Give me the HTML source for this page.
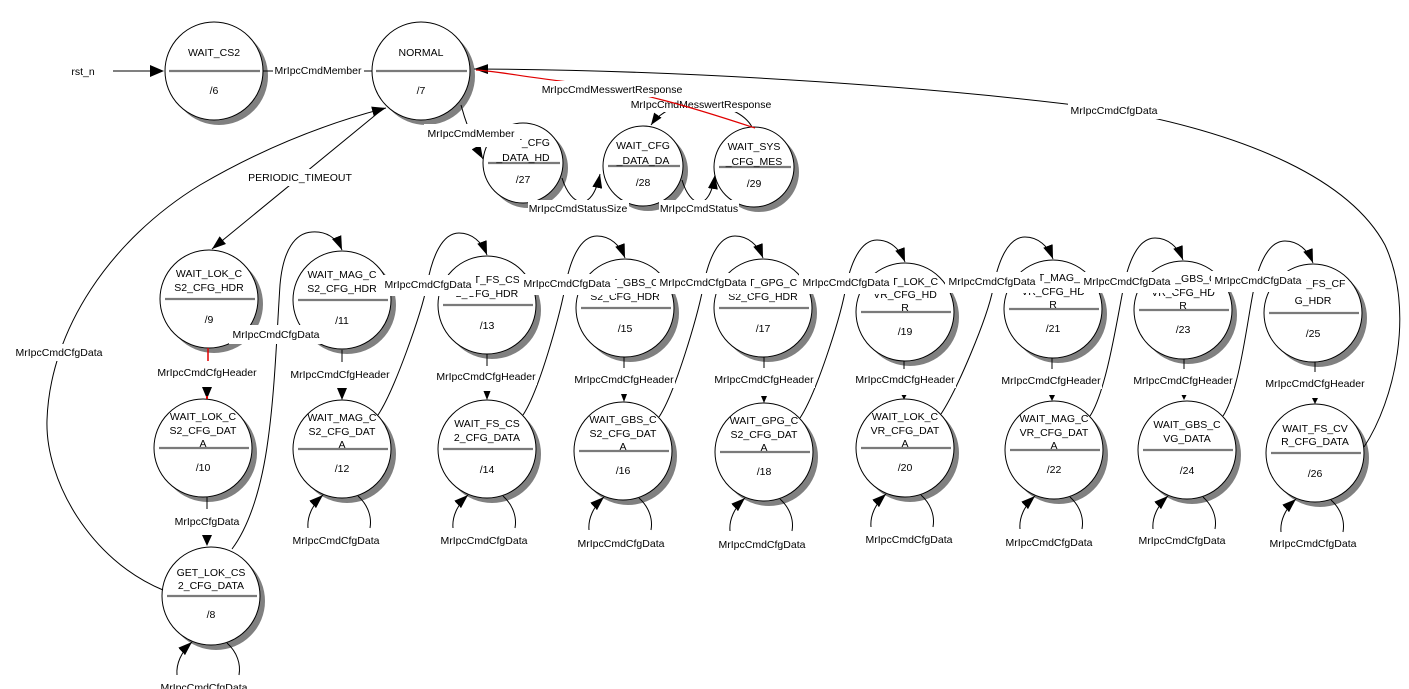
<!DOCTYPE html>
<html>
<head>
<meta charset="utf-8">
<style>
html,body{margin:0;padding:0;background:#fff;}
svg{display:block;}
text{font-family:"Liberation Sans",Arial,sans-serif;font-size:10.5px;fill:#000;text-anchor:middle;}
.e{fill:none;stroke:#000;stroke-width:1;}
.sh{fill:#808080;}
.nd{fill:#fff;stroke:#000;stroke-width:1;}
.dv{stroke:#7a7a7a;stroke-width:2.2;}
.bg{fill:#fff;}
</style>
</head>
<body>
<svg width="1409" height="689" viewBox="0 0 1409 689" xmlns="http://www.w3.org/2000/svg">
<defs>
<marker id="A" markerWidth="14" markerHeight="10" refX="14" refY="5" orient="auto" markerUnits="userSpaceOnUse"><path d="M0,0 L14,5 L0,10 z" fill="#000"/></marker>
<marker id="B" markerWidth="12" markerHeight="9" refX="12" refY="4.5" orient="auto" markerUnits="userSpaceOnUse"><path d="M0,0 L12,4.5 L0,9 z" fill="#000"/></marker>
</defs>
<rect width="1409" height="689" fill="#fff"/>

<!-- ===== NODES ===== -->
<circle class="sh" cx="219" cy="76" r="49"/><circle class="nd" cx="214" cy="71" r="49"/>
<line class="dv" x1="169" y1="71" x2="260" y2="71"/>
<text x="214" y="56">WAIT_CS2</text><text x="214" y="94">/6</text>

<circle class="sh" cx="426" cy="76" r="49"/><circle class="nd" cx="421" cy="71" r="49"/>
<line class="dv" x1="376" y1="71" x2="467" y2="71"/>
<text x="421" y="56">NORMAL</text><text x="421" y="94">/7</text>

<circle class="sh" cx="528" cy="168" r="40"/><circle class="nd" cx="523" cy="163" r="40"/>
<line class="dv" x1="488" y1="163" x2="560" y2="163"/>
<text x="523" y="146">WAIT_CFG</text><text x="523" y="161">_DATA_HD</text><text x="523" y="183">/27</text>

<circle class="sh" cx="648" cy="171" r="40"/><circle class="nd" cx="643" cy="166" r="40"/>
<line class="dv" x1="608" y1="166" x2="680" y2="166"/>
<text x="643" y="149">WAIT_CFG</text><text x="643" y="164">_DATA_DA</text><text x="643" y="186">/28</text>

<circle class="sh" cx="759" cy="172" r="40"/><circle class="nd" cx="754" cy="167" r="40"/>
<line class="dv" x1="719" y1="167" x2="791" y2="167"/>
<text x="754" y="150">WAIT_SYS</text><text x="754" y="165">_CFG_MES</text><text x="754" y="187">/29</text>

<circle class="sh" cx="214" cy="304" r="49"/><circle class="nd" cx="209" cy="299" r="49"/>
<line class="dv" x1="165" y1="299" x2="255" y2="299"/>
<text x="209" y="277">WAIT_LOK_C</text><text x="209" y="291">S2_CFG_HDR</text><text x="209" y="323">/9</text>

<circle class="sh" cx="208" cy="453" r="49"/><circle class="nd" cx="203" cy="448" r="49"/>
<line class="dv" x1="159" y1="448" x2="249" y2="448"/>
<text x="203" y="420">WAIT_LOK_C</text><text x="203" y="434">S2_CFG_DAT</text><text x="203" y="447">A</text><text x="203" y="471">/10</text>

<circle class="sh" cx="216" cy="601" r="49"/><circle class="nd" cx="211" cy="596" r="49"/>
<line class="dv" x1="167" y1="596" x2="257" y2="596"/>
<text x="211" y="576">GET_LOK_CS</text><text x="211" y="589">2_CFG_DATA</text><text x="211" y="618">/8</text>

<circle class="sh" cx="347" cy="305" r="49"/><circle class="nd" cx="342" cy="300" r="49"/>
<line class="dv" x1="298" y1="300" x2="388" y2="300"/>
<text x="342" y="278">WAIT_MAG_C</text><text x="342" y="292">S2_CFG_HDR</text><text x="342" y="324">/11</text>

<circle class="sh" cx="347" cy="454" r="49"/><circle class="nd" cx="342" cy="449" r="49"/>
<line class="dv" x1="298" y1="449" x2="388" y2="449"/>
<text x="342" y="421">WAIT_MAG_C</text><text x="342" y="435">S2_CFG_DAT</text><text x="342" y="448">A</text><text x="342" y="472">/12</text>

<circle class="sh" cx="492" cy="310" r="49"/><circle class="nd" cx="487" cy="305" r="49"/>
<line class="dv" x1="443" y1="305" x2="533" y2="305"/>
<text x="487" y="283">WAIT_FS_CS</text><text x="487" y="297">2_CFG_HDR</text><text x="487" y="329">/13</text>

<circle class="sh" cx="492" cy="454" r="49"/><circle class="nd" cx="487" cy="449" r="49"/>
<line class="dv" x1="443" y1="449" x2="533" y2="449"/>
<text x="487" y="427">WAIT_FS_CS</text><text x="487" y="441">2_CFG_DATA</text><text x="487" y="473">/14</text>

<circle class="sh" cx="630" cy="313" r="49"/><circle class="nd" cx="625" cy="308" r="49"/>
<line class="dv" x1="581" y1="308" x2="671" y2="308"/>
<text x="625" y="286">WAIT_GBS_C</text><text x="625" y="300">S2_CFG_HDR</text><text x="625" y="332">/15</text>

<circle class="sh" cx="628" cy="456" r="49"/><circle class="nd" cx="623" cy="451" r="49"/>
<line class="dv" x1="579" y1="451" x2="669" y2="451"/>
<text x="623" y="423">WAIT_GBS_C</text><text x="623" y="437">S2_CFG_DAT</text><text x="623" y="450">A</text><text x="623" y="474">/16</text>

<circle class="sh" cx="768" cy="313" r="49"/><circle class="nd" cx="763" cy="308" r="49"/>
<line class="dv" x1="719" y1="308" x2="809" y2="308"/>
<text x="763" y="286">WAIT_GPG_C</text><text x="763" y="300">S2_CFG_HDR</text><text x="763" y="332">/17</text>

<circle class="sh" cx="769" cy="457" r="49"/><circle class="nd" cx="764" cy="452" r="49"/>
<line class="dv" x1="720" y1="452" x2="810" y2="452"/>
<text x="764" y="424">WAIT_GPG_C</text><text x="764" y="438">S2_CFG_DAT</text><text x="764" y="451">A</text><text x="764" y="475">/18</text>

<circle class="sh" cx="910" cy="317" r="49"/><circle class="nd" cx="905" cy="312" r="49"/>
<line class="dv" x1="861" y1="312" x2="951" y2="312"/>
<text x="905" y="285">WAIT_LOK_C</text><text x="905" y="298">VR_CFG_HD</text><text x="905" y="311">R</text><text x="905" y="335">/19</text>

<circle class="sh" cx="910" cy="453" r="49"/><circle class="nd" cx="905" cy="448" r="49"/>
<line class="dv" x1="861" y1="448" x2="951" y2="448"/>
<text x="905" y="420">WAIT_LOK_C</text><text x="905" y="434">VR_CFG_DAT</text><text x="905" y="447">A</text><text x="905" y="471">/20</text>

<circle class="sh" cx="1058" cy="314" r="49"/><circle class="nd" cx="1053" cy="309" r="49"/>
<line class="dv" x1="1009" y1="309" x2="1099" y2="309"/>
<text x="1053" y="281">WAIT_MAG_C</text><text x="1053" y="295">VR_CFG_HD</text><text x="1053" y="308">R</text><text x="1053" y="332">/21</text>

<circle class="sh" cx="1059" cy="455" r="49"/><circle class="nd" cx="1054" cy="450" r="49"/>
<line class="dv" x1="1010" y1="450" x2="1100" y2="450"/>
<text x="1054" y="422">WAIT_MAG_C</text><text x="1054" y="436">VR_CFG_DAT</text><text x="1054" y="449">A</text><text x="1054" y="473">/22</text>

<circle class="sh" cx="1188" cy="315" r="49"/><circle class="nd" cx="1183" cy="310" r="49"/>
<line class="dv" x1="1139" y1="310" x2="1229" y2="310"/>
<text x="1183" y="282">WAIT_GBS_C</text><text x="1183" y="296">VR_CFG_HD</text><text x="1183" y="309">R</text><text x="1183" y="333">/23</text>

<circle class="sh" cx="1192" cy="455" r="49"/><circle class="nd" cx="1187" cy="450" r="49"/>
<line class="dv" x1="1143" y1="450" x2="1233" y2="450"/>
<text x="1187" y="428">WAIT_GBS_C</text><text x="1187" y="442">VG_DATA</text><text x="1187" y="474">/24</text>

<circle class="sh" cx="1318" cy="318" r="49"/><circle class="nd" cx="1313" cy="313" r="49"/>
<line class="dv" x1="1269" y1="313" x2="1359" y2="313"/>
<text x="1313" y="287">WAIT_FS_CF</text><text x="1313" y="304">G_HDR</text><text x="1313" y="337">/25</text>

<circle class="sh" cx="1320" cy="458" r="49"/><circle class="nd" cx="1315" cy="453" r="49"/>
<line class="dv" x1="1271" y1="453" x2="1361" y2="453"/>
<text x="1315" y="432">WAIT_FS_CV</text><text x="1315" y="445">R_CFG_DATA</text><text x="1315" y="477">/26</text>

<!-- ===== EDGES ===== -->
<text x="83" y="75">rst_n</text>
<line class="e" x1="113" y1="71" x2="151" y2="71"/>
<polygon points="150,65 164,71 150,77" fill="#000"/>
<line class="e" x1="263" y1="71" x2="372" y2="71"/>

<path class="e" d="M461,105 C465,120 472,140 483,159" marker-end="url(#A)"/>
<path class="e" d="M384,108 L212,249" marker-end="url(#A)"/>
<path class="e" d="M163,590 C90,560 45,480 47,420 C50,330 110,240 200,185 C260,150 320,125 386,108" marker-end="url(#A)"/>
<path class="e" d="M232,549 C250,525 262,485 268,440 C275,390 277,330 280,285 C283,250 295,233 312,232 C326,231 337,238 342,250" marker-end="url(#A)"/>
<path class="e" d="M1364,447 C1395,400 1415,310 1385,245 C1350,180 1250,135 1114,110 C950,88 700,70 474,69" marker-end="url(#A)"/>

<path class="e" d="M562,178 C571,207 592,214 600,174" marker-end="url(#A)"/>
<path class="e" d="M682,180 C690,207 709,214 715,175" marker-end="url(#A)"/>
<path class="e" d="M752,127 C745,114 725,104 700,104 C675,104 660,112 651,125" marker-end="url(#B)"/>

<path class="e" d="M378,415 C394,391 421,315 427,285 C432,257 442,233 459,233 C472,233 482,242 487,255" marker-end="url(#A)"/>
<path class="e" d="M523,415 C539,391 559,318 565,288 C570,260 580,236 597,236 C610,236 620,245 625,258" marker-end="url(#A)"/>
<path class="e" d="M659,417 C675,393 697,318 703,288 C708,260 718,236 735,236 C748,236 758,245 763,258" marker-end="url(#A)"/>
<path class="e" d="M800,418 C816,394 839,322 845,292 C850,264 860,240 877,240 C890,240 900,249 905,262" marker-end="url(#A)"/>
<path class="e" d="M941,414 C957,390 987,319 993,289 C998,261 1008,237 1025,237 C1038,237 1048,246 1053,259" marker-end="url(#A)"/>
<path class="e" d="M1090,416 C1106,392 1117,320 1123,290 C1128,262 1138,238 1155,238 C1168,238 1178,247 1183,260" marker-end="url(#A)"/>
<path class="e" d="M1223,416 C1239,392 1247,323 1253,293 C1258,265 1268,241 1285,241 C1298,241 1308,250 1313,263" marker-end="url(#A)"/>

<line x1="208" y1="348" x2="208" y2="361" stroke="#e00000" stroke-width="1.5"/>
<polygon points="202,387 212,387 207,399" fill="#000"/><rect x="206" y="396" width="2" height="3" fill="#e00000"/>
<line class="e" x1="342" y1="350" x2="342" y2="362"/><polygon points="337,388 347,388 342,400" fill="#000"/>
<line class="e" x1="487" y1="354" x2="487" y2="366"/><polygon points="483.5,391 490.5,391 487,400" fill="#000"/>
<line class="e" x1="624" y1="357" x2="624" y2="368"/><polygon points="621,394 627,394 624,402" fill="#000"/>
<line class="e" x1="764" y1="357" x2="764" y2="368"/><polygon points="761,396 767,396 764,403" fill="#000"/>
<line class="e" x1="904" y1="361" x2="904" y2="369"/><polygon points="901.5,395 906.5,395 904,399.5" fill="#000"/>
<line class="e" x1="1052" y1="358" x2="1052" y2="369"/><polygon points="1049,395 1055,395 1052,401" fill="#000"/>
<line class="e" x1="1184" y1="359" x2="1184" y2="369"/><polygon points="1181.5,395 1186.5,395 1184,400" fill="#000"/>
<line class="e" x1="1315" y1="362" x2="1315" y2="372"/><polygon points="1312,398 1318,398 1315,404" fill="#000"/>
<line class="e" x1="207" y1="497" x2="207" y2="509"/><polygon points="202,535 212,535 207,546" fill="#000"/>

<path class="e" d="M227,643 C237,652 241,664 239,675"/><path class="e" d="M177,675 C176,664 181,652 192,642" marker-end="url(#A)"/>
<path class="e" d="M358,496 C368,505 372,517 370,528"/><path class="e" d="M308,528 C307,517 312,505 323,495" marker-end="url(#A)"/>
<path class="e" d="M503,496 C513,505 517,517 515,528"/><path class="e" d="M453,528 C452,517 457,505 468,495" marker-end="url(#A)"/>
<path class="e" d="M639,498 C649,507 653,519 651,530"/><path class="e" d="M589,530 C588,519 593,507 604,497" marker-end="url(#A)"/>
<path class="e" d="M780,499 C790,508 794,520 792,531"/><path class="e" d="M730,531 C729,520 734,508 745,498" marker-end="url(#A)"/>
<path class="e" d="M921,495 C931,504 935,516 933,527"/><path class="e" d="M871,527 C870,516 875,504 886,494" marker-end="url(#A)"/>
<path class="e" d="M1070,497 C1080,506 1084,518 1082,529"/><path class="e" d="M1020,529 C1019,518 1024,506 1035,496" marker-end="url(#A)"/>
<path class="e" d="M1203,497 C1213,506 1217,518 1215,529"/><path class="e" d="M1153,529 C1152,518 1157,506 1168,496" marker-end="url(#A)"/>
<path class="e" d="M1331,500 C1341,509 1345,521 1343,532"/><path class="e" d="M1281,532 C1280,521 1285,509 1296,499" marker-end="url(#A)"/>

<!-- ===== LABELS ===== -->
<rect class="bg" x="273" y="62" width="91" height="17"/><text x="318" y="74">MrIpcCmdMember</text>
<rect class="bg" x="1068" y="102" width="93" height="17"/><text x="1114" y="114">MrIpcCmdCfgData</text>
<rect class="bg" x="424" y="124" width="96" height="23"/><text x="471" y="137">MrIpcCmdMember</text>
<rect class="bg" x="528" y="200" width="101" height="16"/><text x="578" y="212">MrIpcCmdStatusSize</text>
<rect class="bg" x="659" y="200" width="80" height="16"/><text x="699" y="212">MrIpcCmdStatus</text>
<rect class="bg" x="247" y="169" width="106" height="17"/><text x="300" y="181">PERIODIC_TIMEOUT</text>
<rect class="bg" x="13" y="344" width="93" height="17"/><text x="59" y="356">MrIpcCmdCfgData</text>
<rect class="bg" x="229" y="325" width="95" height="19"/><text x="276" y="338">MrIpcCmdCfgData</text>

<rect class="bg" x="381" y="275" width="95" height="21"/><text x="428" y="288">MrIpcCmdCfgData</text>
<rect class="bg" x="519" y="274" width="96" height="21"/><text x="567" y="287">MrIpcCmdCfgData</text>
<rect class="bg" x="656" y="273" width="95" height="21"/><text x="703" y="286">MrIpcCmdCfgData</text>
<rect class="bg" x="799" y="273" width="95" height="21"/><text x="846" y="286">MrIpcCmdCfgData</text>
<rect class="bg" x="945" y="272" width="95" height="21"/><text x="992" y="285">MrIpcCmdCfgData</text>
<rect class="bg" x="1080" y="272" width="95" height="21"/><text x="1127" y="285">MrIpcCmdCfgData</text>
<rect class="bg" x="1211" y="271" width="95" height="21"/><text x="1258" y="284">MrIpcCmdCfgData</text>

<rect class="bg" x="156" y="364" width="102" height="17"/><text x="207" y="376">MrIpcCmdCfgHeader</text>
<rect class="bg" x="289" y="366" width="102" height="17"/><text x="340" y="378">MrIpcCmdCfgHeader</text>
<rect class="bg" x="435" y="368" width="102" height="17"/><text x="486" y="380">MrIpcCmdCfgHeader</text>
<rect class="bg" x="573" y="371" width="102" height="17"/><text x="624" y="383">MrIpcCmdCfgHeader</text>
<rect class="bg" x="713" y="371" width="102" height="17"/><text x="764" y="383">MrIpcCmdCfgHeader</text>
<rect class="bg" x="854" y="371" width="102" height="17"/><text x="905" y="383">MrIpcCmdCfgHeader</text>
<rect class="bg" x="1000" y="372" width="102" height="17"/><text x="1051" y="384">MrIpcCmdCfgHeader</text>
<rect class="bg" x="1132" y="372" width="102" height="17"/><text x="1183" y="384">MrIpcCmdCfgHeader</text>
<rect class="bg" x="1264" y="375" width="102" height="17"/><text x="1315" y="387">MrIpcCmdCfgHeader</text>

<rect class="bg" x="173" y="513" width="68" height="17"/><text x="207" y="525">MrIpcCfgData</text>

<rect class="bg" x="159" y="679" width="91" height="10"/><text x="204" y="691">MrIpcCmdCfgData</text>
<text x="336" y="544">MrIpcCmdCfgData</text>
<text x="484" y="544">MrIpcCmdCfgData</text>
<text x="621" y="547">MrIpcCmdCfgData</text>
<text x="762" y="548">MrIpcCmdCfgData</text>
<text x="909" y="543">MrIpcCmdCfgData</text>
<text x="1049" y="546">MrIpcCmdCfgData</text>
<text x="1182" y="544">MrIpcCmdCfgData</text>
<text x="1313" y="547">MrIpcCmdCfgData</text>

<rect class="bg" x="630" y="96" width="143" height="16"/><text x="701" y="108">MrIpcCmdMesswertResponse</text>
<path d="M755,128 C700,110 640,90 560,81 C520,76 495,71 476,70" fill="none" stroke="#e00000" stroke-width="1.2"/>
<rect class="bg" x="540" y="81" width="145" height="16"/><text x="612" y="93">MrIpcCmdMesswertResponse</text>
</svg>
</body>
</html>
